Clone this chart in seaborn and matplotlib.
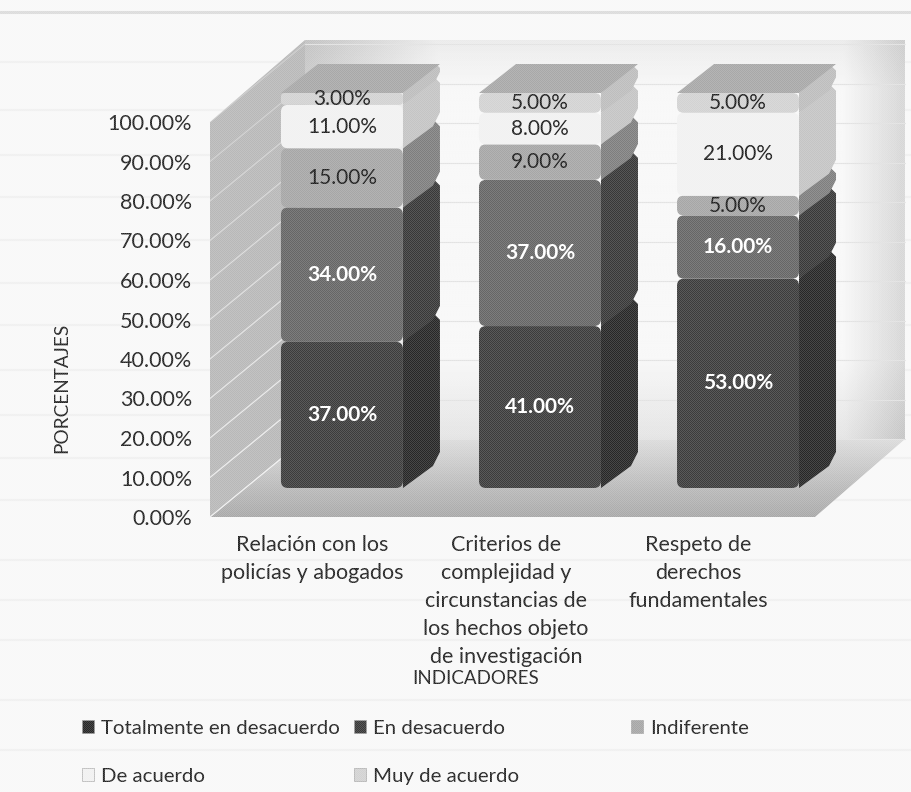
import numpy as np
import seaborn as sns
import matplotlib
matplotlib.use("Agg")
import matplotlib.pyplot as plt
from matplotlib.patches import Polygon, FancyBboxPatch, Patch
from matplotlib.transforms import IdentityTransform

OUTPUT_FILE = "out.png"

# Data
categories = [
    "Relación con los\npolicías y abogados",
    "Criterios de\ncomplejidad y\ncircunstancias de\nlos hechos objeto\nde investigación",
    "Respeto de\nderechos\nfundamentales",
]
series_names = ["Totalmente en desacuerdo", "En desacuerdo", "Indiferente", "De acuerdo", "Muy de acuerdo"]
totalmente = [37, 41, 53]
en_desacuerdo = [34, 37, 16]
indiferente = [15, 9, 5]
de_acuerdo = [11, 8, 21]
muy_de_acuerdo = [3, 5, 5]
y_ticks = [0, 10, 20, 30, 40, 50, 60, 70, 80, 90, 100]

series_values = [totalmente, en_desacuerdo, indiferente, de_acuerdo, muy_de_acuerdo]
front_colors = ["#3c3c3c", "#666666", "#a6a6a6", "#f1f1f1", "#d2d2d2"]
side_colors = ["#272727", "#383838", "#7e7e7e", "#c4c4c4", "#bdbdbd"]
label_colors = ["white", "white", "#1c1c1c", "#1c1c1c", "#1c1c1c"]

# Pixel layout of the 3D box
W, H = 911, 792
LEFT, RIGHT, BOTTOM, TOP = 210, 815, 792 - 517, 792 - 122
WALL_DX, WALL_DY = 95, 78
BAR_SHIFT_X, BAR_SHIFT_Y = 26, 29
BAR_DX, BAR_DY = 37, 29
NICK = 7
XLIM = (-0.535, 2.52)
YLIM = (0, 100)

# labels sit a bit left of their bars in the original and get further off
LABEL_POS = [-0.02, 0.96, 1.93]

sns.set_theme(style="white")
plt.rcParams["font.family"] = ["Lato", "DejaVu Sans"]
TEXT = "#222222"

fig = plt.figure(figsize=(W / 100, H / 100), dpi=100, facecolor="#f8f8f8")


def wall_shade(x_stops, x_vals, y_stops, y_vals, nx=200, ny=200):
    xs = np.interp(np.linspace(0, 1, nx), x_stops, x_vals)
    ys = np.interp(np.linspace(0, 1, ny), y_stops, y_vals)
    return np.outer(ys, xs)


def draw_walls():
    bg = fig.add_axes([0, 0, 1, 1], zorder=0)
    bg.set_xlim(0, W)
    bg.set_ylim(0, H)
    bg.axis("off")

    # faint show-through of the page behind
    for y in [62, 110, 155, 197, 240, 283, 325, 370, 415, 458, 500, 560, 600, 640, 700, 750]:
        bg.plot([0, W], [H - y, H - y], color="#f0f0f0", lw=1.6, zorder=0)
    bg.plot([0, W], [H - 12, H - 12], color="#dcdcdc", lw=2.2, zorder=0)

    x0, x1 = LEFT + WALL_DX, RIGHT + WALL_DX - 5
    y0, y1 = BOTTOM + WALL_DY, H - 40

    # back wall
    poly = Polygon([(x0, y0), (x1, y0), (x1, y1), (x0, y1)], fc="none", ec="none")
    bg.add_patch(poly)
    shade = wall_shade([0, 0.22, 0.9, 1], [0.8, 0.97, 0.97, 0.84], [0, 0.12, 0.8, 1], [0.95, 1, 1, 0.92])
    im = bg.imshow(shade, extent=(x0, x1, y0, y1), cmap="gray", vmin=0, vmax=1, aspect="auto", zorder=1)
    im.set_clip_path(poly)

    # floor
    floor = Polygon([(LEFT, BOTTOM), (RIGHT, BOTTOM), (x1, y0), (x0, y0)], fc="none", ec="none")
    bg.add_patch(floor)
    shade = wall_shade([0, 1], [1, 1], [0, 0.35, 1], [0.66, 0.72, 0.86])
    im = bg.imshow(shade[::-1], extent=(LEFT, x1, BOTTOM, y0), cmap="gray", vmin=0, vmax=1, aspect="auto", zorder=1)
    im.set_clip_path(floor)

    # left wall
    bg.add_patch(Polygon([(LEFT, BOTTOM), (x0, y0), (x0, y1), (LEFT, TOP)], fc="#b8b8b8", ec="none", zorder=2))

    bg.set_xlim(0, W)
    bg.set_ylim(0, H)

    # grid on the walls, one line per tick
    scale = (TOP - BOTTOM) / 100
    for t in y_ticks:
        y_front = BOTTOM + t * scale
        bg.plot([LEFT, x0], [y_front, y_front + WALL_DY], color="#f6f6f6", lw=0.9,
                alpha=0.9 - 0.006 * t, zorder=3)
        bg.plot([x0, x1], [y_front + WALL_DY] * 2, color="#e2e2e2", lw=0.8, zorder=2)


def draw_bars(ax):
    bottoms = np.zeros(len(categories))
    for s, values in enumerate(series_values):
        sns.barplot(x=categories, y=values, bottom=bottoms, color=front_colors[s], width=0.616,
                    saturation=1, ax=ax, order=categories)
        # barplot resets the limits, put them back before reading pixel positions
        ax.set_xlim(*XLIM)
        ax.set_ylim(*YLIM)
        tr = ax.transData
        bars = ax.patches[-len(categories):]
        for c, bar in enumerate(bars):
            (xl, yb), (xr, yt) = tr.transform([(bar.get_x(), bar.get_y()),
                                               (bar.get_x() + bar.get_width(), bar.get_y() + bar.get_height())])
            xl, xr = xl + BAR_SHIFT_X, xr + BAR_SHIFT_X
            yb, yt = yb + BAR_SHIFT_Y, yt + BAR_SHIFT_Y
            z = 3 + s * 0.1

            # side face, back corners cut so white notches show between segments
            n = min(NICK, (yt - yb) / 3)
            side = [(xr, yb), (xr + BAR_DX - n, yb + BAR_DY - n), (xr + BAR_DX, yb + BAR_DY + n),
                    (xr + BAR_DX, yt + BAR_DY - n), (xr + BAR_DX - n, yt + BAR_DY), (xr, yt)]
            ax.add_patch(Polygon(side, fc=side_colors[s], ec="none", transform=IdentityTransform(),
                                 clip_on=False, zorder=z))

            # top cap on the last segment only
            if s == len(series_values) - 1:
                top = [(xl, yt), (xr, yt), (xr + BAR_DX, yt + BAR_DY), (xl + BAR_DX, yt + BAR_DY)]
                ax.add_patch(Polygon(top, fc="#a8a8a8", ec="none", transform=IdentityTransform(),
                                     clip_on=False, zorder=z))

            # swap the square front for a rounded one at the same place
            bar.set_visible(False)
            ax.add_patch(FancyBboxPatch((xl, yb), xr - xl, yt - yb, boxstyle=f"round,pad=0,rounding_size={n:.1f}",
                                        fc=front_colors[s], ec="none", transform=IdentityTransform(),
                                        clip_on=False, zorder=z + 0.05))

            # value label
            ax.text((xl + xr) / 2, (yb + yt) / 2, f"{values[c]:.2f}%", transform=IdentityTransform(),
                    ha="center", va="center", color=label_colors[s], fontsize=15,
                    fontweight="bold" if s < 2 else "normal", zorder=6, clip_on=False)
        bottoms = bottoms + np.array(values)


def main():
    draw_walls()

    ax = fig.add_axes([LEFT / W, BOTTOM / H, (RIGHT - LEFT) / W, (TOP - BOTTOM) / H], zorder=2)
    ax.patch.set_alpha(0)

    draw_bars(ax)

    sns.despine(ax=ax, left=True, bottom=True)
    ax.set_yticks(y_ticks)
    ax.set_yticklabels([f"{t:.2f}%" for t in y_ticks], fontsize=15.5, color=TEXT)
    ax.tick_params(axis="y", length=0, pad=13)
    ax.set_xticks(LABEL_POS)
    ax.set_xticklabels(categories, fontsize=15.5, color=TEXT, linespacing=1.5)
    ax.tick_params(axis="x", length=0, pad=13)
    ax.set_xlim(*XLIM)
    ax.set_ylim(*YLIM)
    ax.grid(False)

    fig.text(62 / W, 1 - 388 / H, "PORCENTAJES", rotation=90, ha="center", va="center", fontsize=13.7, color=TEXT)
    fig.text(476 / W, 1 - 679 / H, "INDICADORES", ha="center", va="center", fontsize=13.5, color=TEXT)

    # legend columns are unevenly spaced in the original, so one legend per column
    columns = [([0, 3], 82), ([1, 4], 354), ([2], 631)]
    for idx, x_px in columns:
        handles = [Patch(fc=side_colors[i] if i < 2 else front_colors[i], ec="#999999", lw=0.4, label=series_names[i])
                   for i in idx]
        leg = ax.legend(handles=handles, loc="upper left", bbox_to_anchor=(x_px / W, 1 - 720 / H),
                        bbox_transform=fig.transFigure, frameon=False, fontsize=14.7, labelcolor=TEXT,
                        handlelength=0.6, handleheight=0.6, handletextpad=0.35, labelspacing=1.52,
                        borderpad=0, borderaxespad=0)
        ax.add_artist(leg)
        ax.legend_ = None

    # scanner halftone: white dots only show up on the gray areas
    dots = fig.add_axes([0, 0, 1, 1], zorder=5)
    dots.axis("off")
    yy, xx = np.indices((H, W))
    pattern = np.ones((H, W, 4))
    pattern[..., 3] = ((xx + yy) % 2) * 0.16
    dots.imshow(pattern, interpolation="nearest", aspect="auto")

    fig.savefig(OUTPUT_FILE, dpi=100, facecolor=fig.get_facecolor())


if __name__ == "__main__":
    main()
